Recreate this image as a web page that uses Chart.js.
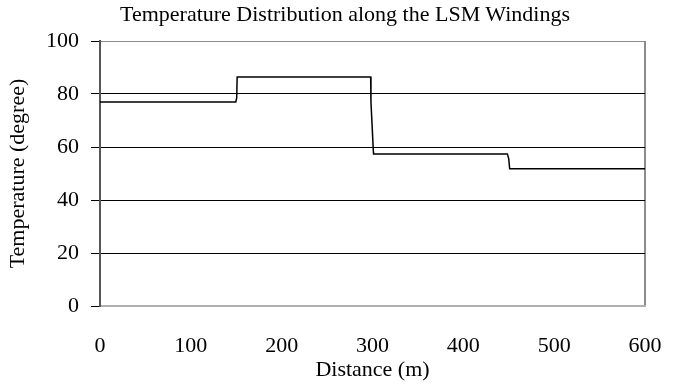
<!DOCTYPE html>
<html lang="en">
<head>
    <meta charset="UTF-8">
    <title>Temperature Distribution along the LSM Windings</title>
    <script src="https://cdn.jsdelivr.net/npm/chart.js"></script>
    <style>
        body {
            margin: 0;
            background-color: #ffffff;
        }
        .chart-container {
            position: relative;
            width: 690px;
            height: 387px;
        }
        .chart-title {
            position: absolute;
            top: 1px;
            left: 0;
            width: 690px;
            text-align: center;
            font-family: 'Liberation Serif', serif;
            font-size: 22px;
            line-height: 26px;
            color: #000;
        }
    </style>
</head>
<body>
<div class="chart-container">
    <div class="chart-title">Temperature Distribution along the LSM Windings</div>
    <canvas id="tempChart"></canvas>
</div>

<script>
    // winding temperature vs distance along the track
    const distance = [0, 149.5, 150.5, 151, 298, 298.3, 301, 301.2, 448.5, 450, 451, 600];
    const temperature = [77, 77, 78.5, 86.4, 86.4, 77, 58, 57.4, 57.4, 55.5, 51.8, 51.8];
    const xTicks = [0, 100, 200, 300, 400, 500, 600];
    const yTicks = [0, 20, 40, 60, 80, 100];

    const serif = 'Liberation Serif';

    new Chart(document.getElementById('tempChart').getContext('2d'), {
        type: 'scatter',
        data: {
            datasets: [{
                data: distance.map((d, i) => ({ x: d, y: temperature[i] })),
                showLine: true,
                borderColor: '#000',
                borderWidth: 1.5,
                pointRadius: 0,
                tension: 0
            }]
        },
        options: {
            responsive: true,
            maintainAspectRatio: false,
            animation: false,
            layout: { padding: { left: 5, right: 45, top: 41, bottom: 4 } },
            scales: {
                x: {
                    type: 'linear',
                    min: 0,
                    max: 600,
                    afterBuildTicks: s => { s.ticks = xTicks.map(v => ({ value: v })); },
                    afterFit: s => { s.height = 77; },
                    grid: {
                        drawTicks: false,
                        color: ctx => ctx.tick && ctx.tick.value === 600 ? '#8c8c8c' : 'rgba(0,0,0,0)',
                        lineWidth: 2
                    },
                    border: { display: true, color: '#b0b0b0', width: 2 },
                    ticks: {
                        color: '#000',
                        padding: 27,
                        font: { family: serif, size: 22 }
                    },
                    title: {
                        display: true,
                        text: 'Distance (m)',
                        color: '#000',
                        padding: { top: 0, bottom: 0 },
                        font: { family: serif, size: 22 }
                    }
                },
                y: {
                    min: 0,
                    max: 100,
                    afterBuildTicks: s => { s.ticks = yTicks.map(v => ({ value: v })); },
                    afterFit: s => { s.width = 95; },
                    grid: {
                        tickLength: 9,
                        tickColor: '#000',
                        color: ctx => {
                            const v = ctx.tick ? ctx.tick.value : null;
                            if (v === 0) return '#b0b0b0';
                            if (v === 100) return '#8c8c8c';
                            return '#000';
                        },
                        lineWidth: 1
                    },
                    border: { display: true, color: '#555', width: 2 },
                    ticks: {
                        color: '#000',
                        padding: 12,
                        font: { family: serif, size: 22 }
                    },
                    title: {
                        display: true,
                        text: 'Temperature (degree)',
                        color: '#000',
                        padding: { top: 0, bottom: 0 },
                        font: { family: serif, size: 22 }
                    }
                }
            },
            plugins: {
                legend: { display: false },
                tooltip: { enabled: false },
                title: { display: false }
            }
        }
    });
</script>
</body>
</html>
